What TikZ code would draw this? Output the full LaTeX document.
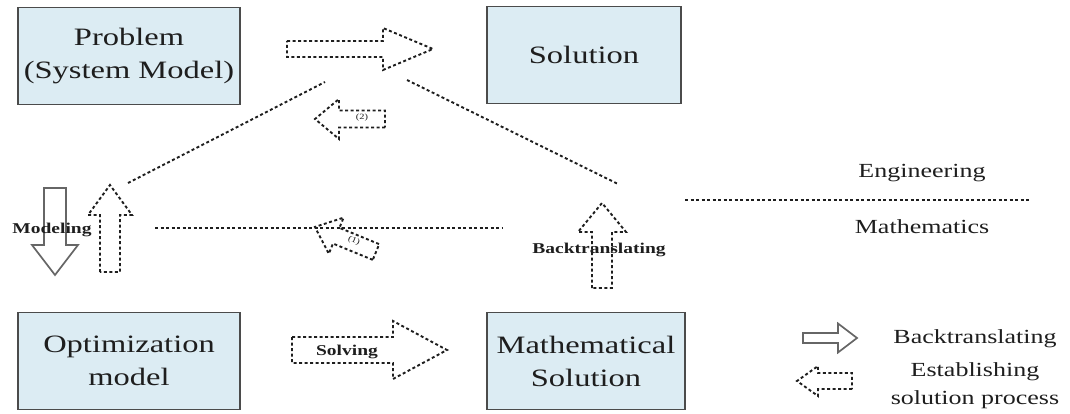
\documentclass[tikz,border=0pt]{standalone}
\usepackage{fontspec}
\setmainfont{Liberation Serif}[FakeStretch=1.3]
\definecolor{boxfill}{RGB}{220,236,243}
\definecolor{boxline}{RGB}{75,75,75}
\definecolor{ink}{RGB}{30,30,30}
% block arrow pointing along +x: body length, tip, body half width, head half width
\newcommand{\blockarr}[4]{(0,-#3) -- (#1,-#3) -- (#1,-#4) -- (#2,0) -- (#1,#4) -- (#1,#3) -- (0,#3) -- cycle}

\begin{document}
\begin{tikzpicture}[
    x=1pt, y=-1pt,
    box/.style={draw=boxline,line width=1.8pt,fill=boxfill,minimum width=222pt,minimum height=97pt,
        align=center,inner sep=0pt,text=ink,font=\fontsize{25}{33}\selectfont},
    dots/.style={draw=ink,dash pattern=on 3pt off 2.5pt,line width=1.9pt},
    hollow/.style={draw=gray!80!black,line width=1.7pt},
    lab/.style={text=ink,font=\fontsize{15}{18}\selectfont\bfseries},
    side/.style={text=ink,align=center,font=\fontsize{20}{27}\selectfont}
]
\useasboundingbox (0,0) rectangle (1070,414);

% the four boxes
\node[box] (prob) at (129,56) {Problem\\(System Model)};
\node[box,minimum width=194pt] (sol) at (584,55) {Solution};
\node[box] (opt) at (129,361) {Optimization\\model};
\node[box,minimum width=198pt] (msol) at (586,361) {Mathematical\\Solution};

% dotted guide lines
\coordinate (ul) at (128,183);
\coordinate (um) at (325,82);
\coordinate (ur) at (407,80);
\coordinate (dr) at (618,184);
\coordinate (hl) at (155,228);
\coordinate (hr) at (503,228);
\coordinate (el) at (685,200);
\coordinate (er) at (1030,200);
\draw[dots] (ul) -- (um);
\draw[dots] (ur) -- (dr);
\draw[dots] (hl) -- (hr);
\draw[dots] (el) -- (er);

% block arrows
\draw[dots,shift={(287,49)}] \blockarr{96}{146}{8}{21};
\draw[dots,shift={(385,119)},rotate=180] \blockarr{46}{70}{8.5}{20};
\node[text=ink,font=\fontsize{8}{9}\selectfont] (two) at (362,118) {(2)};
\draw[dots,shift={(376,252)},rotate=157.7] \blockarr{43}{66}{8.5}{19.5};
\node[text=ink,font=\fontsize{8}{9}\selectfont,rotate=-22] (one) at (354,241) {(1)};
\draw[hollow,shift={(55,188)},rotate=-90] \blockarr{57}{87}{11}{23};
\draw[dots,shift={(110,272)},rotate=90] \blockarr{57}{87}{10}{22};
\draw[dots,shift={(602,288)},rotate=90] \blockarr{56}{85}{10}{24};
\draw[dots,shift={(292,350)}] \blockarr{101}{155}{13}{29};

\node[lab] (mod) at (52,230) {Modeling};
\node[lab] (back) at (599,250) {Backtranslating};
\node[lab] (solv) at (347,352) {Solving};

% sides
\node[side] (eng) at (922,173) {Engineering};
\node[side] (math) at (922,227) {Mathematics};

% legend
\draw[hollow,shift={(803,338)}] \blockarr{35}{54}{5}{14.5};
\draw[dots,shift={(852,381)},rotate=180] \blockarr{34}{55}{8}{15};
\node[side] (lg1) at (975,339) {Backtranslating};
\node[side,font=\fontsize{20}{28}\selectfont] (lg2) at (975,386) {Establishing\\solution process};
\end{tikzpicture}
\end{document}
